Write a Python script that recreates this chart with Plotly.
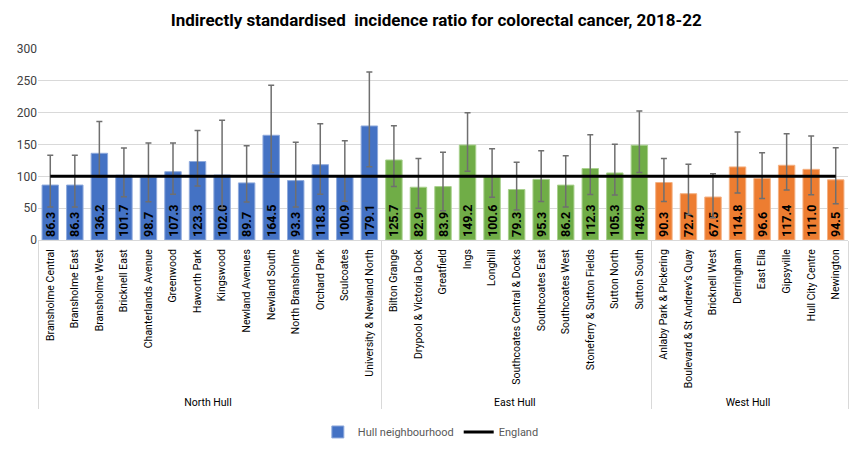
import plotly.graph_objects as go

groups = ["North Hull"] * 14 + ["East Hull"] * 11 + ["West Hull"] * 8
neighbourhoods = [
    "Bransholme Central", "Bransholme East", "Bransholme West", "Bricknell East",
    "Chanterlands Avenue", "Greenwood", "Haworth Park", "Kingswood",
    "Newland Avenues", "Newland South", "North Bransholme", "Orchard Park",
    "Sculcoates", "University & Newland North",
    "Bilton Grange", "Drypool & Victoria Dock", "Greatfield", "Ings", "Longhill",
    "Southcoates Central & Docks", "Southcoates East", "Southcoates West",
    "Stoneferry & Sutton Fields", "Sutton North", "Sutton South",
    "Anlaby Park & Pickering", "Boulevard & St Andrew\u2019s Quay", "Bricknell West",
    "Derringham", "East Ella", "Gipsyville", "Hull City Centre", "Newington",
]
ratio = [
    86.3, 86.3, 136.2, 101.7, 98.7, 107.3, 123.3, 102.0, 89.7, 164.5, 93.3, 118.3, 100.9, 179.1,
    125.7, 82.9, 83.9, 149.2, 100.6, 79.3, 95.3, 86.2, 112.3, 105.3, 148.9,
    90.3, 72.7, 67.5, 114.8, 96.6, 117.4, 111.0, 94.5,
]
upper_ci = [
    133, 133, 186, 144.5, 152.5, 152.5, 172, 188, 148, 243, 153.5, 182.5, 156, 264,
    179.5, 128, 138, 200, 143.5, 122, 140, 132.5, 165.5, 150.5, 202.5,
    128, 119, 104, 169.5, 137, 167, 163.5, 145,
]
lower_ci = [
    52, 52, 99, 68, 60, 72, 85, 50, 59.5, 106, 52, 72, 61, 115,
    84, 50, 46, 108, 67, 47, 60.5, 52, 71.5, 70.5, 106,
    60.5, 40, 35, 74, 65, 78.5, 71, 57,
]
england = [100] * len(neighbourhoods)
group_colours = {"North Hull": "#4472C4", "East Hull": "#70AD47", "West Hull": "#ED7D31"}
group_edges = {"North Hull": "#8FAADC", "East Hull": "#A9D18E", "West Hull": "#F4B183"}

colours = [group_colours[g] for g in groups]
edges = [group_edges[g] for g in groups]

fig = go.Figure()
fig.add_trace(go.Bar(
    x=[groups, neighbourhoods], y=ratio, name="Hull neighbourhood",
    marker=dict(color=colours, line=dict(color=edges, width=1)),
    text=[f"{v:.1f}" for v in ratio], textposition="inside", insidetextanchor="start",
    textangle=-90, constraintext="none",
    textfont=dict(family="Roboto", size=12.5, color="#000000", weight="bold"),
    error_y=dict(type="data", symmetric=False,
                 array=[u - v for u, v in zip(upper_ci, ratio)],
                 arrayminus=[v - l for v, l in zip(ratio, lower_ci)],
                 color="#6F6F6F", thickness=1.5, width=3),
))
fig.add_trace(go.Scatter(
    x=[groups, neighbourhoods], y=england, name="England", mode="lines",
    line=dict(color="#000000", width=3),
))
fig.update_layout(
    width=860, height=444,
    margin=dict(l=30, r=20, t=41, b=212, autoexpand=False),
    paper_bgcolor="white", plot_bgcolor="white",
    font=dict(family="Roboto", size=11, color="#404040"),
    title=dict(text="<b>Indirectly standardised  incidence ratio for colorectal cancer, 2018-22</b>",
               x=0.498, xanchor="center", y=0.972, yanchor="middle",
               font=dict(family="Roboto", size=17, color="#000000")),
    bargap=0.33,
    showlegend=True,
    legend=dict(orientation="h", x=0.485, xanchor="center", y=-1.005, yanchor="middle",
                font=dict(size=11, color="#595959")),
)
fig.update_xaxes(type="multicategory", tickangle=-90, showdividers=True,
                 dividercolor="#D9D9D9", dividerwidth=1, automargin=False,
                 showline=True, linecolor="#D9D9D9", ticks="", ticklabelstandoff=4,
                 tickfont=dict(size=10.5, color="#000000"))
fig.update_yaxes(range=[0, 300], dtick=50, gridcolor="#D9D9D9", zeroline=False,
                 automargin=False, tickfont=dict(size=12, color="#404040"))
fig.write_html("out.html")
